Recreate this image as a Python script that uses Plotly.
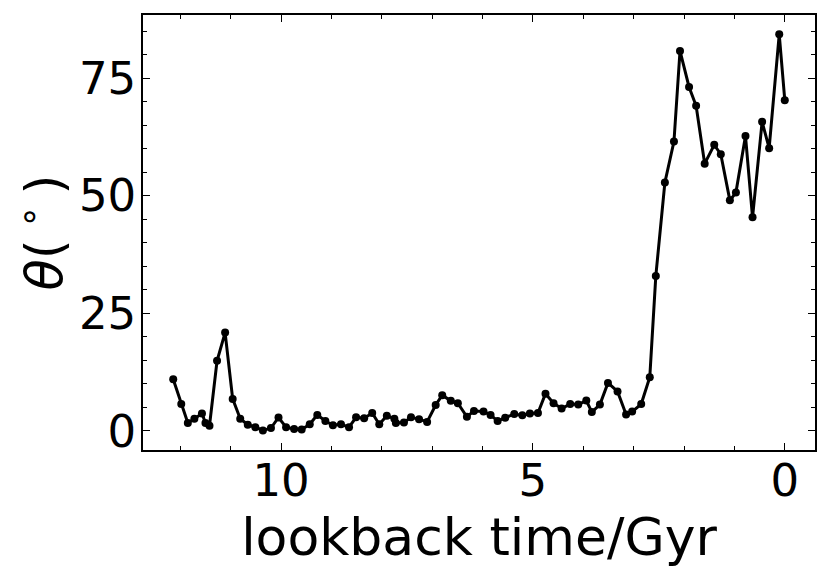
import plotly.graph_objects as go

lookback_gyr = [12.14, 11.98, 11.85, 11.72, 11.57, 11.50, 11.42, 11.27, 11.11, 10.96,
                10.81, 10.66, 10.51, 10.36, 10.20, 10.05, 9.90, 9.74, 9.59, 9.43,
                9.28, 9.12, 8.97, 8.81, 8.65, 8.51, 8.35, 8.19, 8.05, 7.90,
                7.75, 7.72, 7.56, 7.42, 7.26, 7.10, 6.93, 6.80, 6.63, 6.49,
                6.31, 6.17, 5.98, 5.84, 5.70, 5.55, 5.37, 5.21, 5.06, 4.90,
                4.75, 4.59, 4.43, 4.26, 4.10, 3.94, 3.83, 3.67, 3.51, 3.32,
                3.15, 3.03, 2.85, 2.68, 2.56, 2.38, 2.20, 2.08, 1.90, 1.76,
                1.59, 1.40, 1.27, 1.09, 0.97, 0.78, 0.64, 0.45, 0.31, 0.11, 0.0]
theta_deg = [11.0, 5.7, 1.7, 2.6, 3.7, 1.7, 1.1, 14.9, 20.9, 6.8,
             2.6, 1.3, 0.8, 0.1, 0.6, 2.85, 0.8, 0.4, 0.3, 1.4,
             3.4, 2.1, 1.2, 1.4, 0.8, 2.9, 2.7, 3.8, 1.4, 3.2,
             2.6, 1.7, 1.8, 2.9, 2.5, 1.9, 5.5, 7.6, 6.4, 5.9,
             3.0, 4.25, 4.1, 3.4, 2.1, 2.8, 3.6, 3.3, 3.7, 3.8,
             7.9, 5.9, 4.75, 5.7, 5.6, 6.45, 4.0, 5.6, 10.2, 8.4,
             3.5, 4.1, 5.7, 11.4, 32.95, 52.8, 61.5, 80.75, 73.1, 69.1,
             56.8, 60.8, 58.8, 49.0, 50.65, 62.7, 45.4, 65.7, 60.1, 84.3, 70.3]
x_ticks = [10, 5, 0]
y_ticks = [0, 25, 50, 75]

fig = go.Figure(go.Scatter(
    x=lookback_gyr, y=theta_deg, mode="lines+markers",
    line=dict(color="black", width=3),
    marker=dict(color="black", size=8),
))

font = "DejaVu Sans"
axis_common = dict(
    showline=True, linecolor="black", linewidth=1.5, mirror="allticks",
    ticks="inside", ticklen=7, tickwidth=1.3, tickcolor="black",
    showgrid=False, zeroline=False,
    tickfont=dict(family=font, size=45, color="black"),
)
fig.update_xaxes(
    range=[12.74, -0.6], tickvals=x_ticks, ticktext=[str(v) for v in x_ticks],
    minor=dict(dtick=1, tick0=0, ticks="inside", ticklen=4, tickwidth=1, tickcolor="black"),
    title=dict(text="lookback time/Gyr", font=dict(family=font, size=52, color="black"), standoff=4),
    ticklabelstandoff=-10,
    **axis_common,
)
fig.update_yaxes(
    range=[-4.06, 88.4], tickvals=y_ticks, ticktext=[str(v) for v in y_ticks],
    minor=dict(dtick=5, tick0=0, ticks="inside", ticklen=4, tickwidth=1, tickcolor="black"),
    title=dict(text="<i>θ</i>(<sup> ∘ </sup>)", font=dict(family=font, size=51, color="black"), standoff=6),
    ticklabelstandoff=-4,
    **axis_common,
)
# the page body adds an 8px offset, so the figure is 8px smaller and margins shifted
fig.update_layout(
    width=822, height=569,
    margin=dict(l=135, r=15, t=5, b=127),
    plot_bgcolor="white", paper_bgcolor="white",
    showlegend=False,
)
fig.write_html("out.html")
